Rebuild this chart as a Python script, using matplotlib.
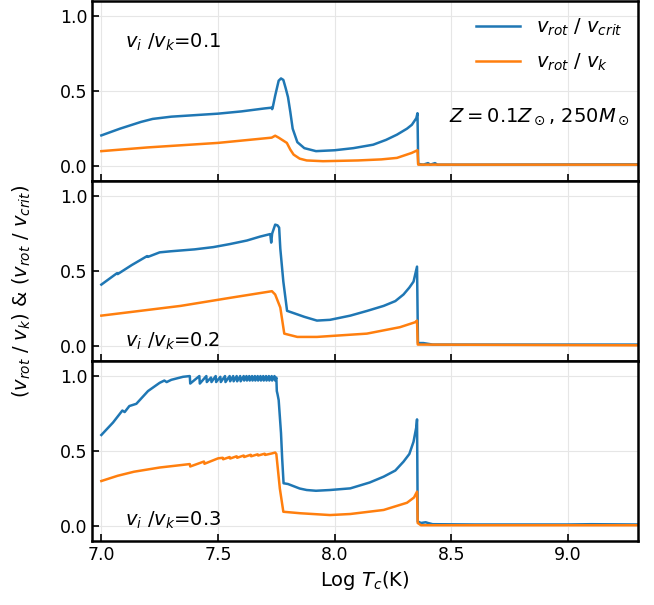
import matplotlib
matplotlib.use("Agg")
import matplotlib.pyplot as plt

# panel 1: v_i/v_k = 0.1
x1_crit = [7.00, 7.08, 7.16, 7.17, 7.22, 7.30, 7.40, 7.50, 7.60, 7.70, 7.73, 7.732, 7.735, 7.745,
           7.76, 7.77, 7.78, 7.79, 7.80, 7.81, 7.82, 7.84, 7.87, 7.92, 8.00, 8.08, 8.165, 8.22,
           8.267, 8.31, 8.331, 8.35, 8.355, 8.358, 8.38, 8.40, 8.41, 8.43, 8.44, 8.60, 9.30]
y1_crit = [0.205, 0.25, 0.29, 0.295, 0.315, 0.33, 0.34, 0.35, 0.365, 0.385, 0.39, 0.38, 0.395, 0.47,
           0.57, 0.585, 0.575, 0.52, 0.46, 0.36, 0.25, 0.16, 0.12, 0.10, 0.106, 0.12, 0.143, 0.175,
           0.21, 0.25, 0.276, 0.32, 0.353, 0.015, 0.01, 0.02, 0.01, 0.02, 0.01, 0.01, 0.012]
x1_k = [7.00, 7.20, 7.50, 7.73, 7.745, 7.76, 7.795, 7.81, 7.824, 7.85, 7.88, 7.95, 8.10, 8.20,
        8.267, 8.33, 8.355, 8.358, 9.30]
y1_k = [0.10, 0.125, 0.155, 0.19, 0.203, 0.19, 0.155, 0.11, 0.077, 0.05, 0.038, 0.033, 0.038, 0.045,
        0.055, 0.088, 0.106, 0.01, 0.01]

# panel 2: v_i/v_k = 0.2
x2_crit = [7.00, 7.067, 7.07, 7.13, 7.196, 7.20, 7.25, 7.296, 7.40, 7.48, 7.55, 7.624, 7.68, 7.724,
           7.728, 7.732, 7.745, 7.755, 7.762, 7.767, 7.78, 7.796, 7.824, 7.87, 7.924, 7.98, 8.067,
           8.14, 8.21, 8.26, 8.295, 8.32, 8.338, 8.353, 8.357, 8.38, 8.40, 8.42, 9.30]
y2_crit = [0.41, 0.486, 0.48, 0.54, 0.60, 0.595, 0.625, 0.632, 0.645, 0.66, 0.68, 0.704, 0.73, 0.747,
           0.69, 0.75, 0.81, 0.805, 0.79, 0.65, 0.43, 0.235, 0.22, 0.195, 0.17, 0.175, 0.203,
           0.235, 0.268, 0.30, 0.344, 0.39, 0.43, 0.53, 0.02, 0.02, 0.015, 0.01, 0.01]
x2_k = [7.00, 7.34, 7.553, 7.731, 7.745, 7.767, 7.784, 7.84, 7.924, 8.138, 8.28, 8.345, 8.353,
        8.356, 9.30]
y2_k = [0.203, 0.268, 0.322, 0.366, 0.344, 0.257, 0.083, 0.061, 0.061, 0.083, 0.126, 0.159, 0.17,
        0.01, 0.005]

# panel 3: v_i/v_k = 0.3
x3_crit = [7.00, 7.05, 7.09, 7.10, 7.12, 7.15, 7.20, 7.25, 7.27, 7.28, 7.30, 7.35, 7.379, 7.381,
           7.42, 7.422, 7.45, 7.452, 7.47, 7.472, 7.49, 7.492, 7.51, 7.512, 7.53, 7.532, 7.55,
           7.552, 7.565, 7.567, 7.58, 7.582, 7.595, 7.597, 7.61, 7.612, 7.622, 7.624, 7.634,
           7.636, 7.646, 7.648, 7.658, 7.66, 7.67, 7.672, 7.682, 7.684, 7.694, 7.696, 7.706,
           7.708, 7.718, 7.72, 7.73, 7.732, 7.742, 7.745, 7.75, 7.752, 7.755, 7.76, 7.77, 7.775,
           7.781, 7.80, 7.82, 7.85, 7.88, 7.92, 7.98, 8.067, 8.15, 8.21, 8.26, 8.295, 8.32,
           8.338, 8.35, 8.353, 8.356, 8.37, 8.39, 8.40, 8.42, 8.60, 9.00, 9.10, 9.30]
y3_crit = [0.607, 0.69, 0.77, 0.76, 0.80, 0.815, 0.90, 0.955, 0.97, 0.96, 0.975, 0.995, 1.0, 0.95,
           1.0, 0.95, 1.0, 0.96, 0.99, 0.96, 1.0, 0.96, 0.995, 0.96, 1.0, 0.96, 1.0,
           0.965, 1.0, 0.965, 1.0, 0.965, 1.0, 0.965, 1.0, 0.97, 1.0, 0.97, 1.0,
           0.97, 1.0, 0.97, 1.0, 0.97, 1.0, 0.97, 1.0, 0.97, 1.0, 0.97, 1.0,
           0.97, 1.0, 0.97, 1.0, 0.97, 1.0, 0.97, 0.99, 0.90, 0.88, 0.84, 0.62, 0.45,
           0.285, 0.28, 0.268, 0.25, 0.24, 0.235, 0.24, 0.251, 0.29, 0.329, 0.37, 0.429, 0.48,
           0.562, 0.66, 0.711, 0.03, 0.02, 0.025, 0.02, 0.012, 0.01, 0.01, 0.012, 0.01]
x3_k = [7.00, 7.07, 7.14, 7.25, 7.379, 7.381, 7.44, 7.442, 7.50, 7.52, 7.522, 7.55, 7.552, 7.58,
        7.582, 7.61, 7.612, 7.64, 7.642, 7.67, 7.672, 7.70, 7.702, 7.731, 7.745, 7.75, 7.765,
        7.78, 7.853, 7.98, 8.067, 8.21, 8.31, 8.34, 8.353, 8.356, 8.37, 9.30]
y3_k = [0.30, 0.335, 0.362, 0.39, 0.413, 0.397, 0.43, 0.415, 0.451, 0.455, 0.445, 0.46, 0.45, 0.465,
        0.455, 0.47, 0.46, 0.475, 0.465, 0.478, 0.47, 0.482, 0.474, 0.484, 0.49, 0.48, 0.25,
        0.095, 0.085, 0.073, 0.08, 0.107, 0.155, 0.19, 0.229, 0.02, 0.005, 0.005]

panels = [(x1_crit, y1_crit, x1_k, y1_k, "0.1"),
          (x2_crit, y2_crit, x2_k, y2_k, "0.2"),
          (x3_crit, y3_crit, x3_k, y3_k, "0.3")]
label_pos = [(0.06, 0.77), (0.06, 0.11), (0.06, 0.115)]

plt.rcParams["font.size"] = 12.5

fig, axes = plt.subplots(3, 1, figsize=(6.54, 6.05), dpi=100, sharex=True)
fig.subplots_adjust(left=0.1407, right=0.9755, bottom=0.1058, top=0.998, hspace=0)

for ax, (xc, yc, xk, yk, vi), (tx, ty) in zip(axes, panels, label_pos):
    ax.plot(xc, yc, color="tab:blue", lw=1.8, label=r"$v_{rot}$ / $v_{crit}$")
    ax.plot(xk, yk, color="tab:orange", lw=1.8, label=r"$v_{rot}$ / $v_k$")
    ax.set_xlim(6.96, 9.30)
    ax.set_ylim(-0.1, 1.1)
    ax.set_yticks([0.0, 0.5, 1.0])
    ax.set_xticks([7.0, 7.5, 8.0, 8.5, 9.0])
    ax.grid(True, color="#e6e6e6", lw=0.8)
    ax.tick_params(direction="in", length=5, width=1.2, labelsize=12.5)
    for s in ax.spines.values():
        s.set_linewidth(1.8)
    ax.text(tx, ty, r"$v_i$ /$v_k$=" + vi, transform=ax.transAxes, fontsize=14,
            va="center")

axes[0].legend(loc="upper right", frameon=False, fontsize=14, handlelength=2.3,
               labelspacing=0.7, borderaxespad=0.4)
axes[0].text(0.985, 0.36, r"$Z=0.1Z_\odot$, $250M_\odot$", transform=axes[0].transAxes,
             ha="right", va="center", fontsize=14)
axes[2].set_xlabel(r"Log $T_c$(K)", fontsize=14)
fig.text(0.034, 0.519, r"($v_{rot}$ / $v_k$) & ($v_{rot}$ / $v_{crit}$)", rotation=90,
         ha="center", va="center", fontsize=14)

fig.savefig("out.png", dpi=100)
